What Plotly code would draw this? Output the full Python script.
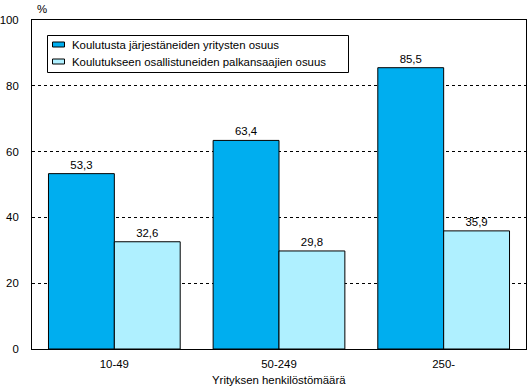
import plotly.graph_objects as go

categories = ["10-49", "50-249", "250-"]
series1_name = "Koulutusta järjestäneiden yritysten osuus"
series1 = [53.3, 63.4, 85.5]
series2_name = "Koulutukseen osallistuneiden palkansaajien osuus"
series2 = [32.6, 29.8, 35.9]
y_ticks = [0, 20, 40, 60, 80, 100]
colors = ["#00AEEF", "#AFF0FF"]

def fmt(v):
    return f"{v:.1f}".replace(".", ",")

font = dict(family="Liberation Sans, Arial, sans-serif", size=11.4, color="black")

W, H = 527, 391
L, T, R, B = 32, 20, 1, 42
PW, PH = W - L - R, H - T - B

def px(x):  # pixel -> paper x
    return (x - L) / PW

def py(y):  # pixel -> paper y
    return (H - B - y) / PH

fig = go.Figure()
for name, vals, col in [(series1_name, series1, colors[0]), (series2_name, series2, colors[1])]:
    fig.add_trace(go.Bar(x=categories, y=vals, name=name,
                         marker=dict(color=col, line=dict(color="black", width=1)),
                         text=[fmt(v) for v in vals], textposition="outside",
                         textfont=font, cliponaxis=False, showlegend=False,
                         hoverinfo="skip"))

# manual legend (box, icons, labels)
shapes = [dict(type="rect", xref="paper", yref="paper",
               x0=px(47.5), x1=px(348.5), y0=py(72.5), y1=py(35.5),
               line=dict(color="black", width=1), fillcolor="white", layer="above")]
annotations = []
for i, (name, col) in enumerate([(series1_name, colors[0]), (series2_name, colors[1])]):
    cy = 44.5 + 17 * i
    shapes.append(dict(type="rect", xref="paper", yref="paper",
                       x0=px(52.5), x1=px(64.5), y0=py(cy + 2.5), y1=py(cy - 2.5),
                       line=dict(color="black", width=1), fillcolor=col, layer="above"))
    annotations.append(dict(text=name, x=px(70), y=py(cy + 0.5), xref="paper", yref="paper",
                            xanchor="left", yanchor="middle", showarrow=False, font=font))
annotations.append(dict(text="%", x=0, y=1, xref="paper", yref="paper",
                        xanchor="left", yanchor="middle", xshift=3, yshift=11.5,
                        showarrow=False, font=font))
annotations.append(dict(text="Yrityksen henkilöstömäärä", x=0.5, y=0, xref="paper", yref="paper",
                        xanchor="center", yanchor="middle", yshift=-31,
                        showarrow=False, font=font))

fig.update_layout(
    width=W, height=H,
    margin=dict(l=L, r=R, t=T, b=B),
    paper_bgcolor="white", plot_bgcolor="white",
    font=font,
    barmode="group", bargap=0.2, bargroupgap=0,
    showlegend=False,
    hovermode=False,
    xaxis=dict(showline=True, linecolor="black", linewidth=1, mirror=True,
               showgrid=False, ticks="", tickfont=font, ticklabelstandoff=4,
               automargin=False),
    yaxis=dict(range=[0, 100], tickvals=y_ticks, showline=True, linecolor="black",
               linewidth=1, mirror=True, showgrid=True, gridcolor="black",
               griddash="3px,3px", gridwidth=1, zeroline=False, ticks="",
               tickfont=font, ticklabelstandoff=10, automargin=False),
    shapes=shapes,
    annotations=annotations,
)

fig.write_html("out.html", config={"displayModeBar": False, "staticPlot": True},
               post_script="document.body.style.margin='0';document.body.style.padding='0';")
